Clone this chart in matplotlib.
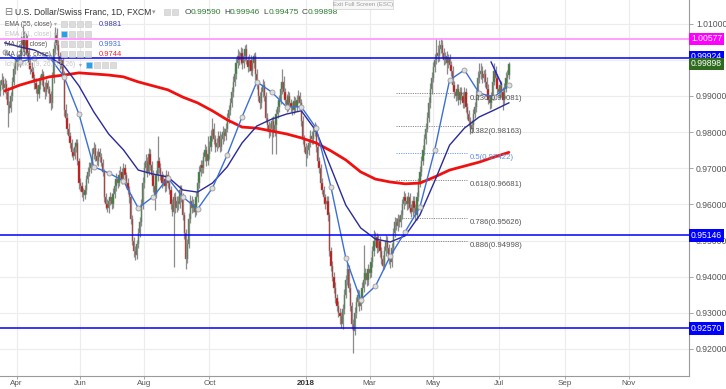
import numpy as np
import pandas as pd
import matplotlib
matplotlib.use('Agg')
import matplotlib.pyplot as plt
from matplotlib.patches import Rectangle
import matplotlib.transforms as mtransforms

plt.rcParams['font.family'] = ['Liberation Sans', 'DejaVu Sans']

# ---------------- data ----------------
start_date = '2017-03-17'
first_open = 0.9915
closes = [
    0.9930, 0.9944, 0.9922, 0.9933, 0.9911, 0.9875, 0.9867,
    0.9900, 0.9940, 0.9975, 0.9990, 1.0000, 0.9995, 1.0010,
    1.0040, 1.0060, 1.0030, 1.0055, 1.0020, 0.9990, 0.9975,
    0.9965, 0.9950, 0.9935, 0.9920, 0.9905, 0.9930,
    0.9945, 0.9960, 0.9925, 0.9910, 0.9935, 0.9920, 0.9905,
    0.9880, 0.9950, 1.0030, 1.0070, 1.0040, 1.0010, 0.9990,
    1.0000, 0.9960, 0.9860, 0.9840, 0.9810, 0.9790, 0.9770,
    0.9745, 0.9735, 0.9760, 0.9770, 0.9720, 0.9660,
    0.9650, 0.9635, 0.9625, 0.9640, 0.9670, 0.9690, 0.9700,
    0.9715, 0.9740, 0.9755, 0.9735, 0.9720, 0.9745, 0.9730,
    0.9715, 0.9690, 0.9620, 0.9600, 0.9590, 0.9610,
    0.9620, 0.9600, 0.9630, 0.9650, 0.9670, 0.9660, 0.9680,
    0.9690, 0.9670, 0.9700, 0.9680, 0.9660, 0.9640, 0.9620,
    0.9560, 0.9500, 0.9470, 0.9460, 0.9490, 0.9520, 0.9550,
    0.9600, 0.9660, 0.9700, 0.9720, 0.9690, 0.9740,
    0.9710, 0.9680, 0.9650, 0.9630, 0.9680, 0.9720, 0.9700,
    0.9680, 0.9660, 0.9670, 0.9650, 0.9680, 0.9660, 0.9640,
    0.9600, 0.9580, 0.9620, 0.9590, 0.9610, 0.9600, 0.9640,
    0.9620, 0.9570, 0.9520, 0.9450, 0.9490, 0.9560,
    0.9610, 0.9590, 0.9600, 0.9580, 0.9620, 0.9660, 0.9690,
    0.9710, 0.9700, 0.9730, 0.9750, 0.9720, 0.9740, 0.9760,
    0.9790, 0.9810, 0.9780, 0.9760, 0.9770, 0.9790, 0.9760,
    0.9780, 0.9800, 0.9790, 0.9810, 0.9840, 0.9860,
    0.9880, 0.9910, 0.9940, 0.9960, 0.9990, 1.0010, 1.0000,
    1.0020, 0.9990, 1.0010, 1.0030, 1.0000, 0.9980, 1.0000,
    0.9970, 0.9990, 1.0010, 0.9960, 0.9930, 0.9900, 0.9880,
    0.9910, 0.9930, 0.9900, 0.9840, 0.9820, 0.9800,
    0.9810, 0.9830, 0.9800, 0.9820, 0.9850, 0.9870, 0.9890,
    0.9920, 0.9940, 0.9910, 0.9890, 0.9870, 0.9900, 0.9880,
    0.9870, 0.9860, 0.9885, 0.9870, 0.9890, 0.9900, 0.9880,
    0.9830, 0.9780, 0.9760, 0.9740, 0.9750, 0.9770, 0.9790,
    0.9780, 0.9800, 0.9810, 0.9760, 0.9720, 0.9700,
    0.9660, 0.9640, 0.9620, 0.9600, 0.9610, 0.9570, 0.9470,
    0.9430, 0.9400, 0.9370, 0.9340, 0.9320, 0.9300, 0.9290,
    0.9270, 0.9310, 0.9350, 0.9390, 0.9420, 0.9370,
    0.9320, 0.9270, 0.9250, 0.9300, 0.9330, 0.9350, 0.9320,
    0.9340, 0.9370, 0.9390, 0.9410, 0.9390, 0.9420, 0.9410,
    0.9440, 0.9470, 0.9500, 0.9510, 0.9480, 0.9500, 0.9470,
    0.9450, 0.9430, 0.9470, 0.9500, 0.9480, 0.9450,
    0.9440, 0.9480, 0.9520, 0.9550, 0.9540, 0.9560, 0.9550,
    0.9570, 0.9600, 0.9620, 0.9610, 0.9600, 0.9620, 0.9590,
    0.9580, 0.9610, 0.9590, 0.9570, 0.9620, 0.9660, 0.9690,
    0.9720, 0.9750, 0.9780, 0.9810, 0.9840, 0.9880,
    0.9920, 0.9950, 0.9980, 1.0000, 1.0020, 1.0010, 1.0030,
    1.0040, 1.0020, 1.0000, 1.0010, 0.9990, 1.0005, 0.9985,
    0.9970, 0.9930, 0.9910, 0.9900, 0.9920, 0.9890, 0.9910,
    0.9900, 0.9880, 0.9910, 0.9870, 0.9850, 0.9830,
    0.9810, 0.9820, 0.9850, 0.9870, 0.9900, 0.9950, 0.9960,
    0.9970, 0.9950, 0.9960, 0.9940, 0.9920, 0.9890, 0.9880,
    0.9900, 0.9940, 0.9970, 0.9950, 0.9920, 0.9910, 0.9930,
    0.9910, 0.9890, 0.9920, 0.9950, 0.9959, 0.99898,
]
upper_wick_pips = [
    15, 20, 12, 18, 10, 14, 12,
    10, 12, 15, 18, 14, 16, 20,
    25, 36, 20, 18, 15, 14, 12,
    18, 15, 12, 14, 10, 15,
    12, 15, 10, 14, 12, 10, 8,
    10, 15, 20, 20, 18, 15, 12,
    15, 12, 10, 18, 12, 14, 10,
    12, 10, 14, 12, 10, 8,
    14, 12, 10, 15, 12, 14, 16,
    14, 15, 18, 12, 14, 12, 10,
    12, 10, 8, 12, 14, 10,
    14, 12, 15, 14, 18, 12, 15,
    15, 12, 14, 12, 10, 12, 10,
    10, 12, 10, 14, 12, 14, 15,
    14, 15, 18, 20, 12, 16,
    12, 10, 14, 12, 15, 70, 12,
    14, 12, 15, 10, 14, 12, 10,
    12, 14, 12, 15, 14, 12, 15,
    14, 12, 10, 12, 14, 15,
    15, 12, 14, 12, 15, 14, 16,
    14, 12, 15, 18, 12, 50, 15,
    16, 28, 14, 12, 15, 14, 12,
    14, 16, 12, 15, 14, 16,
    14, 16, 15, 18, 16, 20, 15,
    15, 14, 16, 12, 14, 12, 15,
    14, 16, 8, 12, 14, 12, 10,
    14, 16, 12, 10, 14, 12,
    14, 12, 15, 12, 14, 16, 14,
    16, 35, 14, 12, 15, 14, 12,
    12, 14, 15, 12, 14, 16, 12,
    12, 14, 12, 10, 14, 12, 15,
    14, 16, 18, 12, 10, 12,
    12, 14, 12, 10, 14, 12, 10,
    12, 14, 12, 15, 12, 14, 12,
    12, 14, 16, 15, 18, 12,
    12, 10, 14, 16, 14, 15, 12,
    14, 16, 98, 15, 12, 14, 12,
    14, 16, 30, 15, 12, 14, 12,
    12, 10, 14, 16, 12, 10,
    12, 14, 16, 15, 12, 14, 12,
    14, 15, 16, 12, 14, 15, 12,
    12, 14, 12, 10, 15, 14, 16,
    14, 15, 16, 14, 15, 16,
    16, 15, 14, 16, 40, 20, 25,
    20, 15, 14, 12, 14, 12, 10,
    12, 14, 12, 10, 14, 12, 15,
    14, 12, 15, 12, 10, 12,
    12, 14, 15, 14, 16, 18, 30,
    20, 14, 12, 15, 12, 14, 10,
    12, 15, 20, 14, 12, 10, 14,
    12, 14, 15, 16, 14, 4.8,
]
lower_wick_pips = [
    14, 12, 20, 15, 18, 61, 15,
    12, 15, 10, 14, 18, 12, 15,
    12, 15, 18, 14, 12, 16, 14,
    14, 12, 16, 12, 18, 10,
    10, 14, 12, 18, 10, 12, 25,
    18, 12, 15, 10, 14, 12, 15,
    12, 14, 15, 12, 14, 12, 15,
    14, 12, 10, 14, 12, 16,
    12, 14, 15, 10, 12, 10, 12,
    12, 10, 14, 15, 12, 14, 12,
    10, 12, 14, 12, 10, 14,
    12, 14, 10, 12, 14, 15, 10,
    12, 14, 12, 10, 14, 12, 15,
    14, 12, 15, 15, 10, 12, 10,
    10, 12, 14, 12, 15, 10,
    14, 12, 15, 45, 12, 14, 12,
    12, 14, 10, 15, 12, 14, 12,
    14, 12, 153, 14, 12, 15, 10,
    12, 14, 15, 30, 12, 10,
    12, 14, 12, 15, 10, 12, 14,
    12, 14, 12, 10, 15, 12, 14,
    12, 14, 12, 15, 12, 14, 16,
    12, 14, 15, 12, 10, 14,
    12, 10, 14, 12, 14, 12, 15,
    12, 15, 12, 14, 12, 14, 12,
    12, 14, 12, 15, 12, 14, 16,
    12, 14, 15, 12, 14, 15,
    12, 70, 14, 12, 80, 12, 14,
    12, 14, 15, 12, 14, 12, 15,
    14, 12, 10, 14, 12, 10, 14,
    14, 12, 15, 35, 12, 14, 12,
    12, 14, 12, 15, 14, 12,
    14, 12, 15, 14, 12, 15, 14,
    14, 12, 15, 12, 14, 12, 20,
    12, 14, 12, 10, 14, 12,
    14, 15, 60, 12, 14, 12, 15,
    12, 14, 12, 10, 15, 12, 14,
    12, 14, 12, 15, 14, 12, 15,
    14, 12, 10, 12, 14, 15,
    15, 12, 14, 10, 12, 14, 12,
    12, 10, 14, 12, 15, 12, 14,
    14, 12, 15, 14, 12, 10, 12,
    12, 10, 14, 12, 10, 12,
    12, 14, 12, 14, 12, 15, 12,
    12, 14, 15, 12, 30, 12, 14,
    14, 12, 15, 14, 12, 15, 12,
    12, 14, 12, 15, 14, 12,
    14, 13, 12, 10, 14, 12, 14,
    12, 14, 12, 15, 14, 12, 15,
    14, 12, 10, 14, 12, 15, 12,
    14, 28, 12, 10, 14, 11.5,
]

# moving averages sampled every 10 bars (starting with bar 3)
ma20_values = [1.0022, 0.9994, 1.0005, 1.0008, 0.9953, 0.9850, 0.9704, 0.9687,
               0.9665, 0.9590, 0.9621, 0.9673, 0.9621, 0.9587, 0.9645, 0.9737,
               0.9842, 0.9939, 0.9911, 0.9870, 0.9870, 0.9811, 0.9648, 0.9452,
               0.9336, 0.9374, 0.9457, 0.9524, 0.9593, 0.9751, 0.9944, 0.9972,
               0.9908, 0.9897, 0.9931]
ema55_values = [1.0047, 1.0036, 1.0027, 1.0008, 0.9983, 0.9928, 0.9856, 0.9795,
                0.9751, 0.9695, 0.9684, 0.9676, 0.9640, 0.9634, 0.9659, 0.9704,
                0.9770, 0.9817, 0.9836, 0.9850, 0.9859, 0.9803, 0.9701, 0.9598,
                0.9535, 0.9504, 0.9496, 0.9513, 0.9571, 0.9665, 0.9764, 0.9811,
                0.9842, 0.9861, 0.9881]
ma200_values = [0.9914, 0.9930, 0.9942, 0.9953, 0.9958, 0.9964, 0.9961, 0.9958,
                0.9953, 0.9939, 0.9928, 0.9917, 0.9897, 0.9881, 0.9859, 0.9834,
                0.9814, 0.9811, 0.9803, 0.9795, 0.9784, 0.9770, 0.9748, 0.9723,
                0.9690, 0.9670, 0.9662, 0.9657, 0.9659, 0.9676, 0.9695, 0.9706,
                0.9717, 0.9731, 0.9744]
ma_first_bar = 3
ma_step = 10

# horizontal levels
blue_levels = [1.0004, 0.95146, 0.92570]
blue_level_labels = ['0.99924', '0.95146', '0.92570']
magenta_level = 1.00577
last_close_label = '0.99898'

# fibonacci retracement
fib_ratios = ['0.236', '0.382', '0.5', '0.618', '0.786', '0.886']
fib_values = [0.99081, 0.98163, 0.97422, 0.96681, 0.95626, 0.94998]
fib_start_bar, fib_end_bar = 267, 315

# small trend line
trend_bars = [331, 338]
trend_values = [0.9994, 0.9933]

# axis ticks (the 1.00000 label is hidden behind the price boxes in the original)
y_ticks = [0.92, 0.93, 0.94, 0.95, 0.96, 0.97, 0.98, 0.99, 1.00, 1.01]
y_hidden_labels = [1.00]
month_dates = ['2017-04-03', '2017-06-01', '2017-08-01', '2017-10-02', '2018-01-01',
               '2018-03-01', '2018-05-01', '2018-07-02', '2018-09-03', '2018-11-01']
month_labels = ['Apr', 'Jun', 'Aug', 'Oct', '2018', 'Mar', 'May', 'Jul', 'Sep', 'Nov']

title = 'U.S. Dollar/Swiss Franc, 1D, FXCM'
ohlc_text = [('O', '0.99590'), ('H', '0.99946'), ('L', '0.99475'), ('C', '0.99898')]

# ---------------- figure ----------------
W, H = 726, 389
fig = plt.figure(figsize=(W / 100, H / 100), dpi=100)
fig.patch.set_facecolor('white')
ax = fig.add_axes([0, 1 - 376 / H, 689 / W, 376 / H])
ax.set_facecolor('white')

all_days = pd.bdate_range(start_date, '2018-12-31')
n = len(closes)
pos = np.arange(n)
closes_a = np.array(closes)
opens = np.concatenate([[first_open], closes_a[:-1]])
highs = np.maximum(opens, closes_a) + np.array(upper_wick_pips) / 1e4
lows = np.minimum(opens, closes_a) - np.array(lower_wick_pips) / 1e4

ax.set_xlim(-0.26, 464.5)
ax.set_ylim(0.91252, 1.01656)

# grid
for v in y_ticks:
    ax.axhline(v, color='#ececec', lw=0.8, zorder=0)
tick_pos = [all_days.get_loc(pd.Timestamp(d)) for d in month_dates]
for p in tick_pos:
    ax.axvline(p, color='#ececec', lw=0.8, zorder=0)

# candles
ax.vlines(pos, lows, highs, color='#8c8c8c', lw=0.9, zorder=2)
up = closes_a >= opens
colors = np.where(up, '#2e7d32', '#d50000')
ax.bar(pos, np.abs(closes_a - opens), bottom=np.minimum(opens, closes_a), width=0.85,
       color=colors, edgecolor='#8a8a8a', linewidth=0.35, zorder=3)

# moving averages
ma_pos = pos[ma_first_bar::ma_step]
ax.plot(ma_pos, ma200_values, color='#f01010', lw=2.0, zorder=4, solid_capstyle='round')
ax.plot(ma_pos, ema55_values, color='#2a2a9a', lw=1.0, zorder=4)
ax.plot(ma_pos, ma20_values, color='#3a6fd8', lw=1.0, zorder=5,
        marker='o', ms=3.6, mfc='#dedede', mec='#9a9a9a', mew=0.6)

# horizontal levels
for v in blue_levels:
    ax.axhline(v, color='#0000ff', lw=1.1, zorder=6)
ax.axhline(magenta_level, color='#ff99ff', lw=1.3, zorder=6)

# fibonacci
for r, v in zip(fib_ratios, fib_values):
    c = '#6fa0f0' if r == '0.5' else '#8a8a8a'
    ax.plot([fib_start_bar, fib_end_bar], [v, v], color=c, lw=0.7, ls=(0, (1.2, 1.2)), zorder=1)
    ax.text(fib_end_bar + 1.5, v - 0.0004, f'{r}({v:.5f})', fontsize=5.6,
            color=('#5b8fe8' if r == '0.5' else '#555555'), ha='left', va='top', zorder=7)

# trend line
ax.plot(trend_bars, trend_values, color='#2020d0', lw=1.0, zorder=6)

# axes styling
for s in ['left', 'top']:
    ax.spines[s].set_visible(False)
ax.spines['right'].set_color('#9a9a9a')
ax.spines['bottom'].set_color('#9a9a9a')
ax.yaxis.tick_right()
ax.set_yticks(y_ticks)
ax.set_yticklabels(['' if v in y_hidden_labels else f'{v:.5f}' for v in y_ticks])
ax.tick_params(axis='y', length=3, width=0.6, color='#9a9a9a', labelsize=6.2,
               labelcolor='#555555', pad=2)
ax.set_xticks(tick_pos)
ax.set_xticklabels(month_labels)
ax.tick_params(axis='x', length=2.5, width=0.6, color='#9a9a9a', labelsize=5.8,
               labelcolor='#555555', pad=0.6)
for lbl in ax.get_xticklabels():
    if lbl.get_text() == '2018':
        lbl.set_fontweight('bold')
        lbl.set_color('#333333')

# price label boxes on the right
tr = mtransforms.blended_transform_factory(ax.transAxes, ax.transData)
def price_box(v, text, fc, va='center'):
    ax.text(1.003, v, text, transform=tr, fontsize=6.2, color='white', ha='left',
            va=va, clip_on=False, zorder=20,
            bbox=dict(boxstyle='square,pad=0.22', fc=fc, ec='none'))
price_box(magenta_level, '1.00577', '#ff00ff')
price_box(blue_levels[0] + 0.0004, blue_level_labels[0], '#0000ff')
price_box(closes[-1] - 0.0001, last_close_label, '#2e6b1e')
price_box(blue_levels[1], blue_level_labels[1], '#0000ff')
price_box(blue_levels[2], blue_level_labels[2], '#0000ff')

# ---------------- header / legend texts ----------------
def ftext(x, y, s, **kw):
    fig.text(x / W, 1 - y / H, s, va='center', **kw)

def icon(x, y, fc='#dcdcdc', size=6):
    fig.add_artist(Rectangle((x / W, 1 - (y + size / 2) / H), size / W, size / H,
                             transform=fig.transFigure, fc=fc, ec='#c8c8c8', lw=0.4, zorder=30))

ftext(4, 12, '⊟', fontsize=7, color='#777777', family=['DejaVu Sans'])
ftext(15, 12, title, fontsize=6.2, color='#333333')
ftext(152, 12, '▾', fontsize=5, color='#999999', family=['DejaVu Sans'])
icon(164, 12)
icon(172, 12)
x0 = 185
for k, v in ohlc_text:
    ftext(x0, 12, k, fontsize=6.0, color='#444444')
    ftext(x0 + 5.2, 12, v, fontsize=6.0, color='#2e7d32')
    x0 += 39

legend_rows = [
    ('EMA (55, close)', '0.9881', '#3a3ab0', False, 24),
    ('EMA (21, close)', '', '', True, 34),
    ('MA (20, close)', '0.9931', '#3d6be0', False, 44),
    ('MA (200, close)', '0.9744', '#ee2222', False, 54),
    ('Ichimoku (9, 26, 52, 26)', '', '', True, 65),
]
for name, val, vc, faded, y in legend_rows:
    tc = '#c4c4c4' if faded else '#555555'
    ftext(5, y, name, fontsize=4.8, color=tc)
    if name.startswith('Ichimoku'):
        xi = 86
    else:
        xi = 61
    ftext(xi - 7, y, '▾', fontsize=4.2, color='#aaaaaa', family=['DejaVu Sans'])
    for j in range(4):
        icon(xi + 8 * j, y, fc=('#2aa0e8' if (faded and j == 0) else '#dcdcdc'))
    if val:
        ftext(99, y, val, fontsize=5.4, color=vc)

# exit full screen tooltip
fig.add_artist(Rectangle((333 / W, 1 - 9 / H), 60 / W, 9 / H, transform=fig.transFigure,
                         fc='#f7f7f7', ec='#d0d0d0', lw=0.5, zorder=30))
ftext(363, 4.5, 'Exit Full Screen (ESC)', fontsize=4.3, color='#9a9a9a', ha='center', zorder=31)

fig.savefig('out.png', dpi=100, facecolor='white')
